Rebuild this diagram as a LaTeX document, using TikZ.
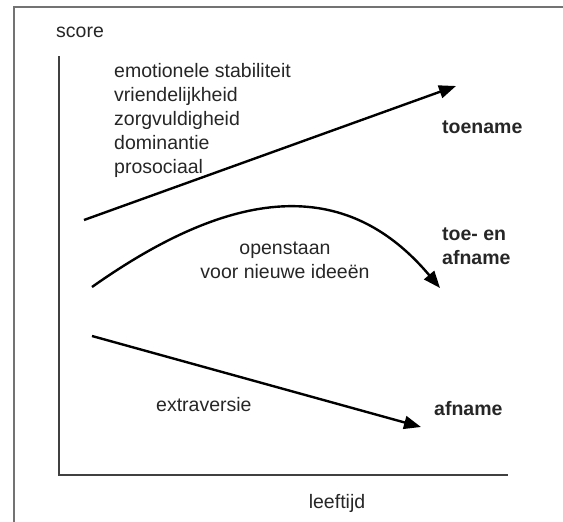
\documentclass[tikz,border=0pt]{standalone}
\usepackage{fontspec}
\setmainfont{Liberation Sans}
\usetikzlibrary{arrows.meta}
\begin{document}
\begin{tikzpicture}[x=1pt,y=-1pt,
  lbl/.style={font=\fontsize{19.5}{24}\selectfont, inner sep=0pt, text=black!85},
  bld/.style={lbl, font=\fontsize{19.5}{24}\selectfont\bfseries},
  axis/.style={draw=black!75, line width=1.5pt},
  frameline/.style={draw=black!55, line width=2pt},
  trend/.style={draw=black, line width=2.4pt, -{Triangle[length=17pt,width=13pt]}}]
\useasboundingbox (0,0) rectangle (563,522);
% frame
\coordinate (fbl) at (14,522);
\coordinate (ftl) at (14,7);
\coordinate (ftr) at (563,7);
\draw[frameline] (fbl) -- (ftl) -- (ftr);
% axes
\coordinate (ytop) at (59,56);
\coordinate (orig) at (59,475);
\coordinate (xend) at (508,475);
\draw[axis] (ytop) -- (orig) -- (xend);
\node[lbl, anchor=west] (score) at (56,32) {score};
\node[lbl] (leeftijd) at (337,503) {leeftijd};
% texts
\node[lbl, anchor=north west, align=left] (traits) at (114,63)
  {emotionele stabiliteit\\vriendelijkheid\\zorgvuldigheid\\dominantie\\prosociaal};
\node[bld, anchor=west] (toename) at (442,127) {toename};
\node[bld, anchor=west, align=left] (toeaf) at (442,246) {toe- en\\afname};
\node[lbl, align=center] (open) at (285,260) {openstaan\\voor nieuwe ideeën};
\node[lbl, anchor=west] (extra) at (156,405) {extraversie};
\node[bld, anchor=west] (afname) at (434,409) {afname};
% trends
\coordinate (a1) at (84,220);
\coordinate (a2) at (456,86);
\draw[trend] (a1) -- (a2);
\coordinate (b1) at (92,287);
\coordinate (b2) at (440,288);
\draw[trend] (b1) .. controls (232,188) and (345,175) .. (b2);
\coordinate (c1) at (92,336);
\coordinate (c2) at (421,427);
\draw[trend] (c1) -- (c2);
\end{tikzpicture}
\end{document}
